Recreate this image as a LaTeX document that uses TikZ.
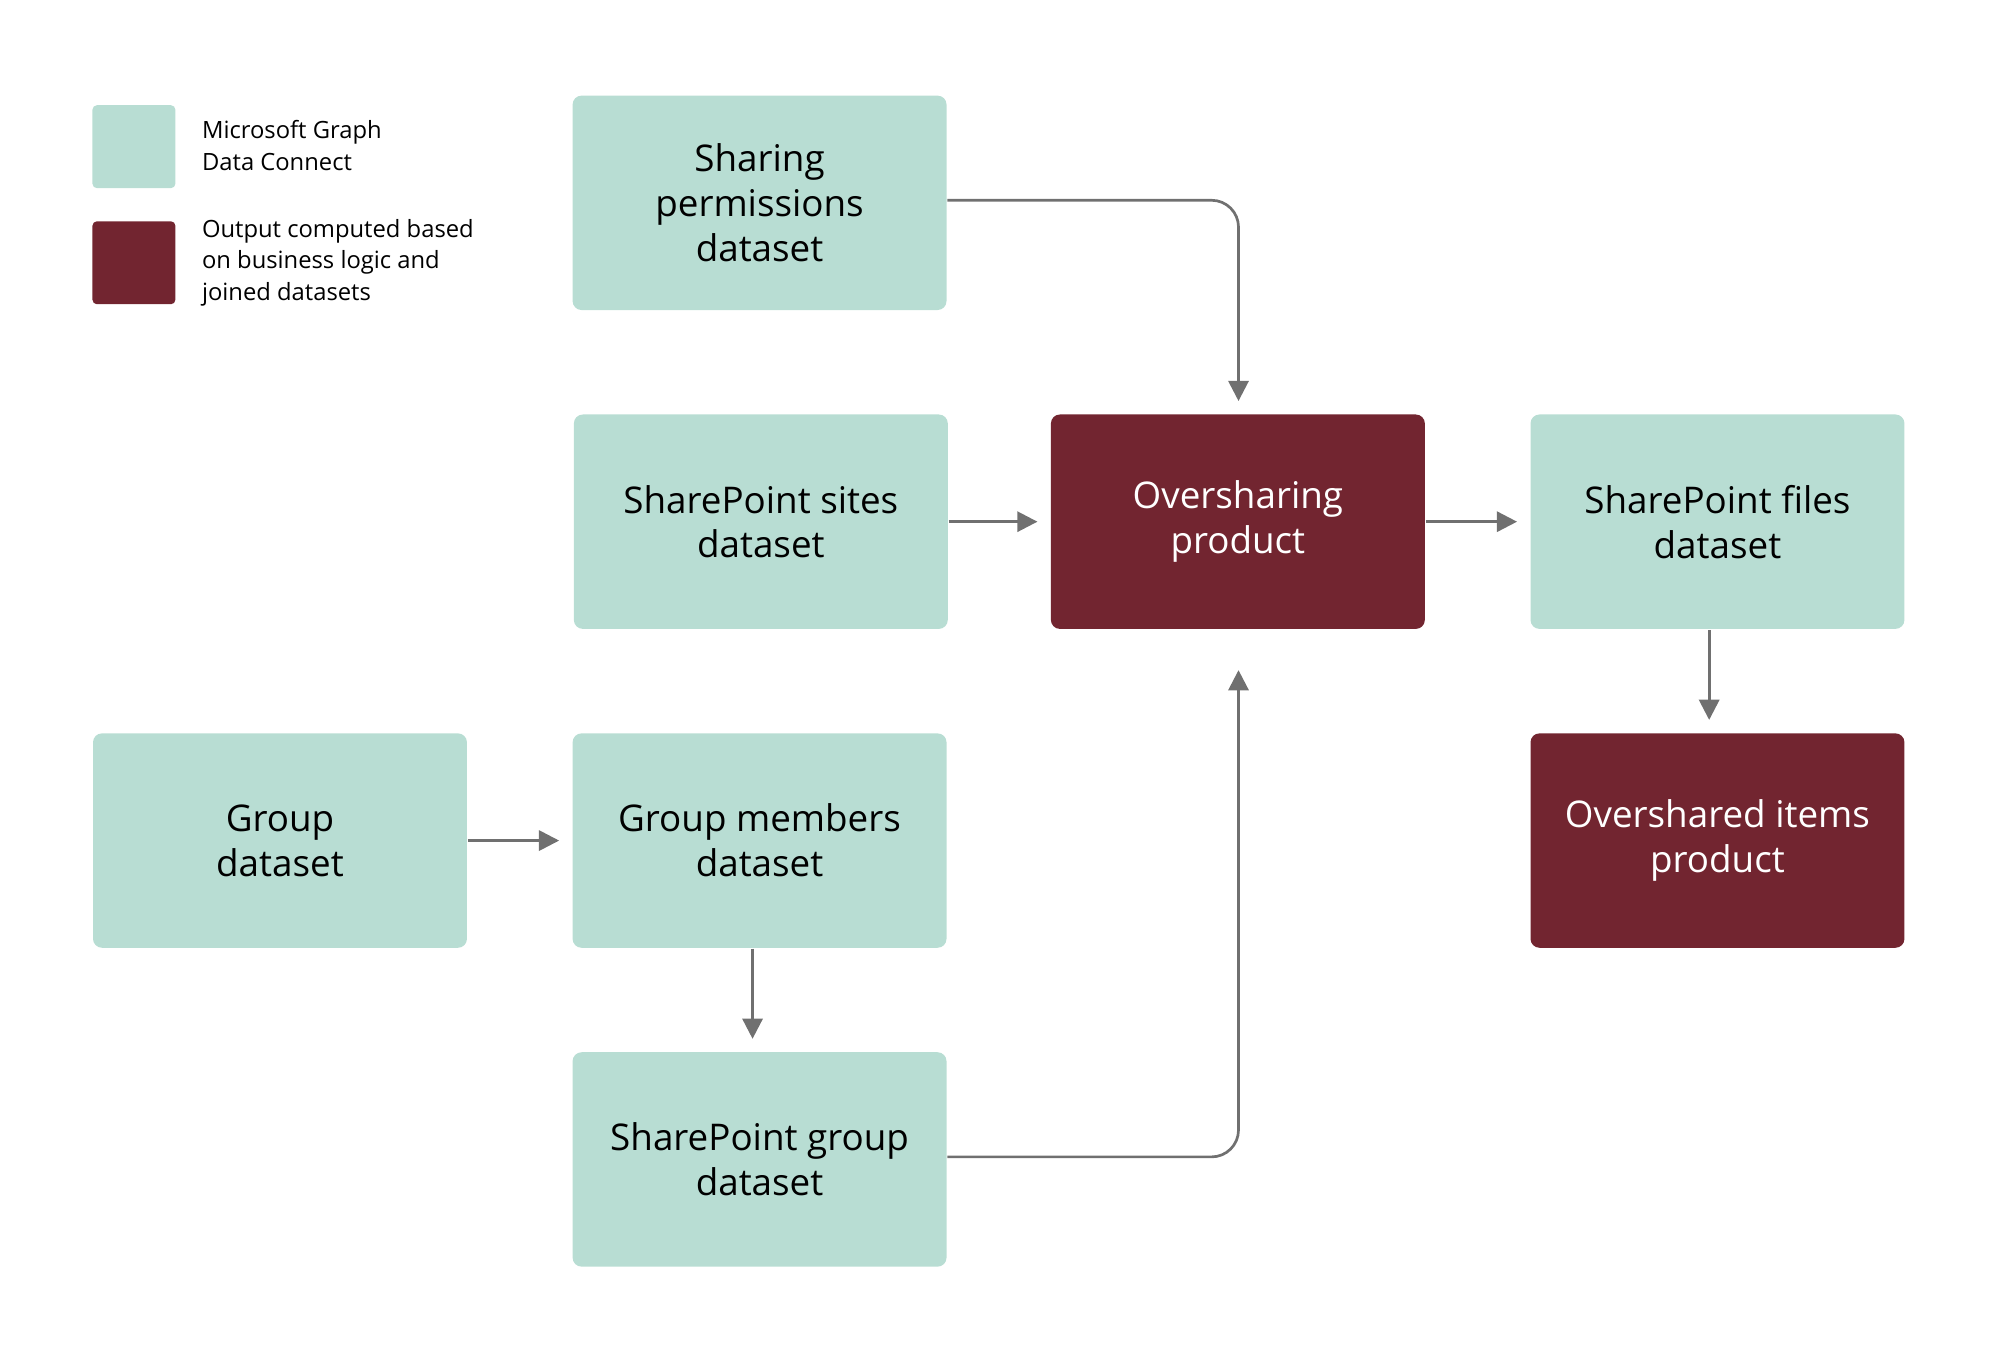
\documentclass[tikz,border=0pt]{standalone}
\usepackage{fontspec}
\setmainfont{Open Sans}
\usetikzlibrary{arrows.meta}
\definecolor{teal}{HTML}{B8DDD3}
\definecolor{maroon}{HTML}{722530}
\definecolor{arr}{HTML}{707070}
\begin{document}
\begin{tikzpicture}[x=0.01cm,y=-0.01cm,
 box/.style={rectangle,rounded corners=2pt,minimum width=2.93cm,minimum height=1.68cm,align=center,font=\fontsize{8.2}{10}\selectfont,inner sep=0pt},
 ds/.style={box,fill=teal,text=black},
 prod/.style={box,fill=maroon,text=white},
 leg/.style={rectangle,rounded corners=1pt,minimum width=0.65cm,minimum height=0.65cm,inner sep=0pt},
 legt/.style={anchor=west,align=left,font=\fontsize{5.3}{7}\selectfont},
 con/.style={draw=arr,line width=0.6pt,-{Triangle[length=4.5pt,width=4.5pt]},shorten >=2.8pt,rounded corners=6pt}]
\useasboundingbox (0,0) rectangle (1568,1069);
\node[leg,fill=teal] (l1) at (105,115) {};
\node[leg,fill=maroon] (l2) at (105,206) {};
\node[legt] (t1) at (146,114) {Microsoft Graph\\Data Connect};
\node[legt] (t2) at (146,206) {Output computed based\\on business logic and\\joined datasets};
\node[ds] (sp) at (595.5,159) {Sharing\\permissions\\dataset};
\node[ds] (ss) at (596.5,409) {SharePoint sites\\dataset};
\node[prod] (ov) at (970.5,409) {Oversharing\\product};
\node[ds] (sf) at (1346.5,409) {SharePoint files\\dataset};
\node[prod] (oi) at (1346.5,659) {Overshared items\\product};
\node[ds] (g) at (219.5,659) {Group\\dataset};
\node[ds] (gm) at (595.5,659) {Group members\\dataset};
\node[ds] (sg) at (595.5,909) {SharePoint group\\dataset};
\coordinate (c1) at (971,157);
\coordinate (c2) at (971,907);
\coordinate (x1) at (1340,0);
\coordinate (x2) at (590,0);
\draw[con] (sp.east |- c1) -- (c1) -- (ov.north -| c1);
\draw[con] (ss) -- (ov);
\draw[con] (ov) -- (sf);
\draw[con] (sf.south -| x1) -- (oi.north -| x1);
\draw[con] (g) -- (gm);
\draw[con] (gm.south -| x2) -- (sg.north -| x2);
\draw[con,shorten >=9pt] (sg.east |- c2) -- (c2) -- (ov.south -| c2);
\end{tikzpicture}
\end{document}
